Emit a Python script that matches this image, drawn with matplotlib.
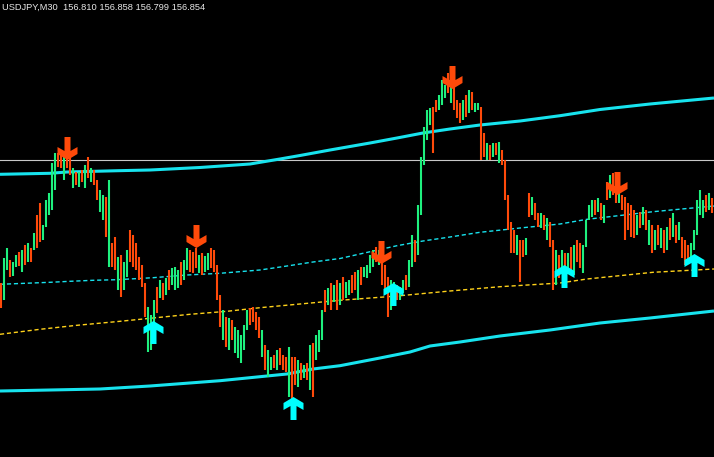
import numpy as np
import matplotlib
matplotlib.use("Agg")
import matplotlib.pyplot as plt
from matplotlib.path import Path

# ---- data (vertical coordinate = screen price level, 0 at top) ----
title_text = "USDJPY,M30  156.810 156.858 156.799 156.854"

bar_high = [283, 258, 248, 260, 262, 255, 252, 250, 245, 243, 248, 233, 215, 203, 225, 200, 193, 163, 153, 153,
            155, 153, 150, 155, 168, 172, 172, 170, 165, 157, 168, 170, 180, 190, 195, 197, 180, 243, 237, 257,
            255, 262, 250, 230, 235, 243, 257, 265, 283, 307, 315, 300, 287, 280, 283, 278, 270, 268, 267, 270,
            262, 260, 248, 250, 252, 248, 255, 253, 256, 253, 248, 250, 265, 295, 310, 317, 318, 320, 327, 330,
            335, 325, 310, 308, 307, 312, 317, 330, 345, 350, 357, 355, 350, 348, 355, 357, 347, 357, 357, 360,
            363, 365, 363, 345, 343, 335, 330, 310, 290, 288, 283, 285, 280, 283, 277, 282, 280, 275, 272, 270,
            267, 267, 265, 255, 250, 247, 250, 255, 265, 277, 280, 282, 285, 287, 280, 275, 260, 235, 240, 205,
            157, 127, 110, 108, 107, 100, 95, 80, 85, 73, 67, 87, 100, 103, 100, 95, 90, 92, 103, 103,
            107, 133, 143, 145, 143, 143, 142, 150, 160, 195, 222, 230, 235, 240, 240, 238, 193, 197, 203, 213,
            213, 215, 218, 222, 240, 250, 255, 250, 253, 253, 247, 245, 240, 243, 245, 220, 205, 200, 200, 198,
            203, 205, 182, 175, 173, 180, 185, 195, 197, 203, 205, 210, 215, 212, 207, 210, 220, 225, 230, 225,
            228, 230, 227, 218, 213, 225, 222, 237, 240, 245, 243, 230, 200, 190, 200, 195, 193, 198]
bar_low = [308, 300, 270, 277, 276, 267, 266, 272, 265, 262, 262, 250, 248, 242, 240, 227, 215, 210, 190, 167,
           168, 180, 168, 175, 188, 185, 187, 182, 188, 178, 182, 185, 200, 212, 220, 237, 267, 267, 270, 290,
           297, 290, 277, 262, 267, 270, 280, 287, 317, 352, 350, 340, 313, 298, 300, 295, 290, 285, 290, 288,
           285, 280, 270, 272, 273, 268, 273, 275, 272, 270, 268, 272, 300, 327, 340, 347, 350, 340, 353, 358,
           363, 350, 330, 325, 322, 330, 338, 357, 370, 377, 370, 368, 370, 365, 370, 372, 397, 400, 385, 387,
           380, 378, 380, 390, 397, 360, 352, 340, 312, 305, 310, 302, 310, 305, 300, 298, 295, 293, 290, 300,
           285, 277, 278, 273, 267, 262, 265, 285, 293, 317, 310, 300, 300, 300, 293, 290, 287, 267, 262, 255,
           215, 165, 140, 125, 153, 112, 110, 105, 98, 93, 103, 110, 118, 123, 120, 117, 113, 110, 112, 110,
           160, 157, 160, 160, 157, 155, 163, 165, 200, 230, 253, 253, 255, 282, 257, 255, 217, 215, 220, 227,
           228, 230, 240, 247, 290, 285, 278, 272, 275, 273, 270, 275, 262, 268, 273, 247, 220, 217, 215, 212,
           220, 223, 200, 198, 195, 203, 203, 210, 240, 230, 237, 238, 235, 228, 225, 230, 245, 253, 250, 245,
           248, 253, 250, 240, 237, 243, 240, 258, 265, 263, 260, 250, 235, 215, 218, 212, 210, 213]
bar_dir = ("RGGRGGRGRGRGRRGGGGGRRGRRGRGRGRGRRGGRGRRGRGGRRRRRRGGGRGRGRGGGRGGRRRGRGGRRRRGRGRGGGGGRRRRGRGGRGRRRGRRG"
           "RGRGRGGGRGRGRGRGGRRGRGGGGRGRRRGGRGGRGGRGGGGGRRGGGRGRRRGRGRGGRRGRGRGRRRRRGRRGRGRRGRGRRGRGRGRGRRGGGGRGRG"
           "RGRRGRRRRRGRGRGRGRGRGRGRGRRRGGGGGRGRR")

upper_x = [0, 50, 67, 118, 150, 200, 250, 280, 300, 330, 370, 397, 423, 450, 480, 520, 560, 600, 650, 714]
upper_y = [174.3, 173.3, 172, 170.7, 170, 167.5, 164, 159, 155.5, 150, 143, 138, 133, 129, 125, 121, 115.7, 109.5, 104, 98]
lower_x = [0, 100, 150, 220, 260, 287, 313, 340, 380, 410, 430, 460, 500, 550, 600, 650, 714]
lower_y = [391, 389, 386, 380.7, 376.7, 374, 369, 365.7, 358, 352, 346, 342, 336, 330, 323, 318, 311]
mid_x = [0, 50, 70, 93, 117, 153, 187, 220, 260, 287, 313, 340, 363, 397, 423, 450, 480, 520, 560, 587, 653, 714]
mid_y = [284.3, 282.3, 281.3, 280.3, 279.7, 277.7, 275, 273.3, 270, 266, 262, 258.5, 253.3, 245.7, 241, 237, 232.3, 228,
         224, 219.3, 211.7, 206]
gold_x = [0, 40, 77, 118, 150, 190, 227, 260, 300, 340, 397, 450, 500, 560, 587, 653, 714]
gold_y = [334.3, 329.3, 325.3, 321.5, 318.3, 314.3, 311.3, 307.7, 304, 300.3, 296, 291, 286.7, 283, 279, 272.3, 269]
hline_level = 160

sell_x = [66.5, 195.5, 380.5, 451.5, 617]
sell_y = [148, 236, 251.5, 77, 183]
buy_x = [153, 293, 393, 564, 694]
buy_y = [331.5, 408, 294, 276, 265]

# ---- figure ----
W, H = 714, 457
fig = plt.figure(figsize=(W / 100, H / 100), dpi=100, facecolor="black")
ax = fig.add_axes([0, 0, 1, 1])
ax.set_facecolor("black")
ax.set_xlim(0, W)
ax.set_ylim(H, 0)
ax.axis("off")

GREEN = "#1EF07E"
RED = "#FF4A0A"
AQUA = "#17E3EE"
GOLD = "#FFD21A"

ax.axhline(hline_level, color="#C8C8C8", lw=0.8, zorder=1)
ax.plot(upper_x, upper_y, color=AQUA, lw=2.2, zorder=2, solid_capstyle="butt")
ax.plot(lower_x, lower_y, color=AQUA, lw=2.2, zorder=2, solid_capstyle="butt")
ax.plot(mid_x, mid_y, color=AQUA, lw=1.0, ls=(0, (3.0, 2.0)), zorder=2)
ax.plot(gold_x, gold_y, color=GOLD, lw=1.0, ls=(0, (3.0, 2.0)), zorder=2)

xs = 1 + 3 * np.arange(len(bar_high))
cols = [GREEN if d == "G" else RED for d in bar_dir[:len(bar_high)]]
ax.vlines(xs, bar_high, bar_low, colors=cols, lw=1.5, zorder=3)

# arrow marker (Wingdings-like thick arrow), drawn in screen orientation
up_verts = [(0, 11.5), (10, 5.5), (10, -1.5), (3, 2.5), (3, -11.5), (-3, -11.5), (-3, 2.5), (-10, -1.5),
            (-10, 5.5), (0, 11.5)]
up_path = Path(up_verts, [Path.MOVETO] + [Path.LINETO] * (len(up_verts) - 2) + [Path.CLOSEPOLY])
down_path = Path([(x, -y) for x, y in up_verts], up_path.codes)
msize = 23 / (100 / 72)
ax.plot(buy_x, buy_y, ls="none", marker=up_path, ms=msize, mfc="#00FFFF", mec="none", zorder=4)
ax.plot(sell_x, sell_y, ls="none", marker=down_path, ms=msize, mfc=RED, mec="none", zorder=4)

ax.text(2, 3, title_text, color="#E8E8E8", fontsize=6.7, family="Liberation Sans",
        va="top", ha="left", zorder=5)

fig.savefig("out.png", dpi=100, facecolor="black")
